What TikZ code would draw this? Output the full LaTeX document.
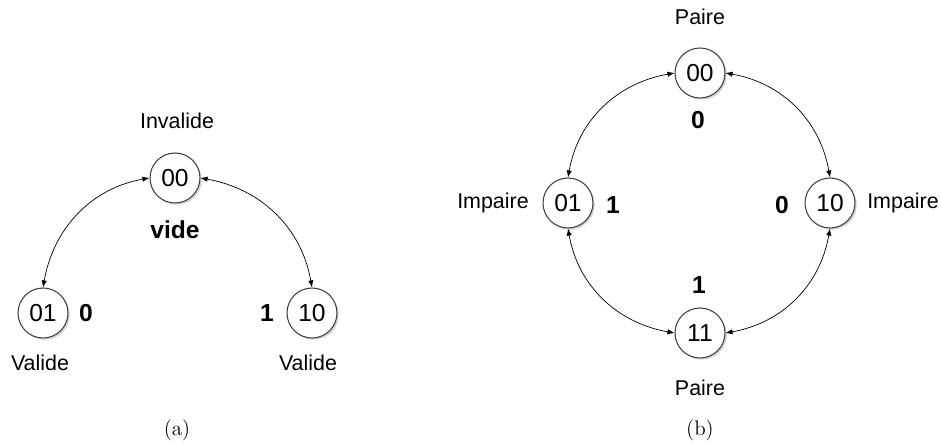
\documentclass[tikz,border=0pt]{standalone}
\usepackage{fontspec}
\newfontfamily\arialfont{Liberation Sans}
\usetikzlibrary{arrows.meta,shadows}

\begin{document}
\begin{tikzpicture}[x=0.02cm, y=0.02cm,
statenode/.style={circle, draw=black!75, fill=white, semithick, minimum size=1cm, inner sep=0pt, font=\arialfont\fontsize{14}{16}\selectfont, drop shadow={shadow xshift=1pt, shadow yshift=-1pt, opacity=0.35}},
namelabel/.style={font=\arialfont\fontsize{12.2}{14}\selectfont},
bitlabel/.style={font=\arialfont\bfseries\fontsize{14}{16}\selectfont},
caption/.style={font=\fontsize{12}{14}\selectfont},
link/.style={{Latex[length=4pt,width=3pt]}-{Latex[length=4pt,width=3pt]}, thin},
]
\useasboundingbox (0,0) rectangle (941,445);

%Nodes (a)
\node[statenode]  (a00)       at (175,267) {00};
\node[statenode]  (a01)       at (43,132)  {01};
\node[statenode]  (a10)       at (312,132) {10};
\node[namelabel]  (ainval)    at (177,324) {Invalide};
\node[bitlabel]   (avide)     at (175,215) {vide};
\node[bitlabel]   (abit01)    at (86,132)  {0};
\node[bitlabel]   (abit10)    at (267,132) {1};
\node[namelabel]  (aval01)    at (40,82)   {Valide};
\node[namelabel]  (aval10)    at (308,82)  {Valide};
\node[caption]    (capa)      at (177,15)  {(a)};

%Nodes (b)
\node[statenode]  (b00)       at (700,372) {00};
\node[statenode]  (b01)       at (568,242) {01};
\node[statenode]  (b10)       at (830,242) {10};
\node[statenode]  (b11)       at (700,112) {11};
\node[namelabel]  (bpair00)   at (700,428) {Paire};
\node[bitlabel]   (bbit00)    at (698,325) {0};
\node[namelabel]  (bimp01)    at (493,242) {Impaire};
\node[bitlabel]   (bbit01)    at (613,240) {1};
\node[bitlabel]   (bbit10)    at (782,240) {0};
\node[namelabel]  (bimp10)    at (903,242) {Impaire};
\node[bitlabel]   (bbit11)    at (699,160) {1};
\node[namelabel]  (bpair11)   at (700,57)  {Paire};
\node[caption]    (capb)      at (700,15)  {(b)};

%Lines
\draw[link] (a00.west) to[out=190,in=80]  (a01.north);
\draw[link] (a00.east) to[out=-10,in=100] (a10.north);
\draw[link] (b00.west) to[out=190,in=80]  (b01.north);
\draw[link] (b00.east) to[out=-10,in=100] (b10.north);
\draw[link] (b01.south) to[out=280,in=170] (b11.west);
\draw[link] (b10.south) to[out=260,in=10]  (b11.east);
\end{tikzpicture}
\end{document}
